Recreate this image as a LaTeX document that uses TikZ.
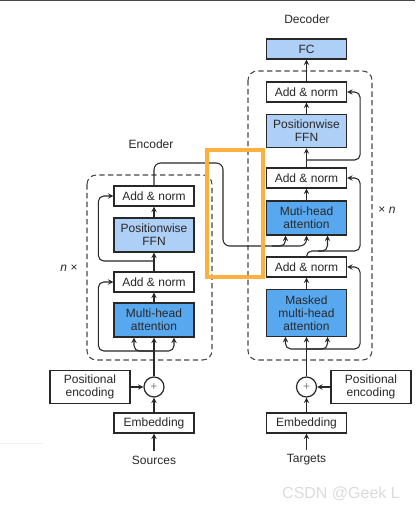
\documentclass[tikz,border=0pt]{standalone}
\usepackage{fontspec}
\setmainfont{Liberation Sans}
\usetikzlibrary{calc, positioning}
\definecolor{ffnblue}{RGB}{174,207,246}
\definecolor{attblue}{RGB}{88,168,240}
\definecolor{markorange}{RGB}{251,176,64}
\definecolor{edge}{RGB}{40,40,40}

\begin{document}
\begin{tikzpicture}[x=0.75pt, y=-0.75pt,
            box/.style={draw=edge, line width=0.9pt, fill=white, minimum width=60pt,
                        minimum height=15pt, inner sep=1pt, align=center,
                        font=\fontsize{9}{9.8}\selectfont, text=edge},
            ffn/.style={box, fill=ffnblue, minimum height=25.5pt},
            att/.style={box, fill=attblue, minimum height=25.5pt},
            sumnode/.style={draw=edge, line width=0.9pt, circle, fill=white, minimum size=15pt,
                        inner sep=0pt, font=\fontsize{9}{9}\selectfont, text=gray},
            arr/.style={-stealth, line width=0.8pt, draw=edge},
            stack/.style={draw=edge!85, dash pattern=on 4pt off 2.5pt, line width=0.8pt,
                        rounded corners=7pt},
            lbl/.style={font=\fontsize{9}{10}\selectfont, text=edge}
        ]
        \useasboundingbox (0,0) rectangle (415,513);
        % screenshot edges
        \draw[line width=1.5pt, draw=edge!85] (0,0.5) -- (415,0.5);
        \draw[line width=0.6pt, draw=gray!12] (0,443) -- (43,443);

        % Encoder
        \draw[stack] (87,175) rectangle (212,360);
        \node[lbl] (enc) at (151,144) {Encoder};
        \node[lbl] (enc_n) at (69,268) {{\itshape n} ×};
        \node[lbl] (src) at (154,460) {Sources};
        \node[box] (emb_e) at (154,423) {Embedding};
        \node[sumnode] (plus_e) at (154,387) {+};
        \node[box, minimum height=25pt] (pos_e) at (90,387) {Positional\\encoding};
        \node[att] (mha_e) at (154,320) {Multi-head\\attention};
        \node[box] (an1_e) at (154,282) {Add \& norm};
        \node[ffn] (ffn_e) at (154,235) {Positionwise\\FFN};
        \node[box] (an2_e) at (154,196) {Add \& norm};

        \draw[arr] (src) -- (emb_e);
        \draw[arr] (emb_e) -- (plus_e);
        \draw[arr] (pos_e) -- (plus_e);
        \coordinate (e_in) at (154,351);
        \draw[arr] (plus_e) -- (mha_e);
        \draw[arr, rounded corners=4pt] (e_in) -| ($(mha_e.south)+(-20,0)$);
        \draw[arr, rounded corners=4pt] (e_in) -| ($(mha_e.south)+(20,0)$);
        \draw[arr, rounded corners=4pt] (e_in) -| ($(an1_e.west)+(-15,0)$) -- (an1_e.west);
        \draw[arr] (mha_e) -- (an1_e);
        \draw[arr] (an1_e) -- (ffn_e);
        \coordinate (e_mid) at (154,261);
        \draw[arr, rounded corners=4pt] (e_mid) -| ($(an2_e.west)+(-15,0)$) -- (an2_e.west);
        \draw[arr] (ffn_e) -- (an2_e);

        % Decoder
        \draw[stack] (248,71) rectangle (372,360);
        \node[lbl] (dec) at (307,19) {Decoder};
        \node[lbl] (dec_n) at (387,210) {× {\itshape n}};
        \node[lbl] (tgt) at (306.5,460) {Targets};
        \node[box] (emb_d) at (306.5,423) {Embedding};
        \node[sumnode] (plus_d) at (306.5,387) {+};
        \node[box, minimum height=25pt] (pos_d) at (371,387) {Positional\\encoding};
        \node[att, minimum height=35pt] (mmha_d) at (306.5,313) {Masked\\multi-head\\attention};
        \node[box] (an1_d) at (306.5,267) {Add \& norm};
        \node[att] (mha_d) at (306.5,218) {Muti-head\\attention};
        \node[box] (an2_d) at (306.5,178) {Add \& norm};
        \node[ffn, minimum height=25pt] (ffn_d) at (306.5,131) {Positionwise\\FFN};
        \node[box] (an3_d) at (306.5,92) {Add \& norm};
        \node[box, fill=ffnblue] (fc) at (306.5,49) {FC};

        \draw[arr] (tgt) -- (emb_d);
        \draw[arr] (emb_d) -- (plus_d);
        \draw[arr] (pos_d) -- (plus_d);
        \coordinate (d_in) at (306.5,349);
        \draw[arr] (plus_d) -- (mmha_d);
        \draw[arr, rounded corners=4pt] (d_in) -| ($(mmha_d.south)+(-21,0)$);
        \draw[arr, rounded corners=4pt] (d_in) -| ($(mmha_d.south)+(21,0)$);
        \draw[arr, rounded corners=4pt] (d_in) -| ($(an1_d.east)+(13,0)$) -- (an1_d.east);
        \draw[arr] (mmha_d) -- (an1_d);
        \coordinate (d_q) at (318,251);
        \draw[arr, rounded corners=4pt] (an1_d.north) |- (d_q) -| ($(mha_d.south)+(21,0)$);
        \draw[arr, rounded corners=4pt] (d_q) -| ($(an2_d.east)+(13,0)$) -- (an2_d.east);
        \draw[arr] (mha_d) -- (an2_d);
        \draw[arr] (an2_d) -- (ffn_d);
        \coordinate (d_mid) at (306.5,160);
        \draw[arr, rounded corners=4pt] (d_mid) -| ($(an3_d.east)+(13,0)$) -- (an3_d.east);
        \draw[arr] (ffn_d) -- (an3_d);
        \draw[arr] (an3_d) -- (fc);

        % Encoder output into decoder attention
        \coordinate (e_up) at (223,163);
        \coordinate (e_down) at (223,246);
        \coordinate (e_key) at (272,246);
        \draw[arr, rounded corners=5pt] (an2_e.north) |- (e_up) -- (e_down) -| (mha_d.south);
        \draw[arr, rounded corners=4pt] (e_key) -| ($(mha_d.south)+(-21,0)$);

        % highlight
        \draw[markorange, line width=3pt] (207,150) rectangle (263,277);

        \node[font=\fontsize{12}{12}\selectfont, text=gray!28] (mark) at (341,494) {CSDN @Geek L};
        \end{tikzpicture}
\end{document}
